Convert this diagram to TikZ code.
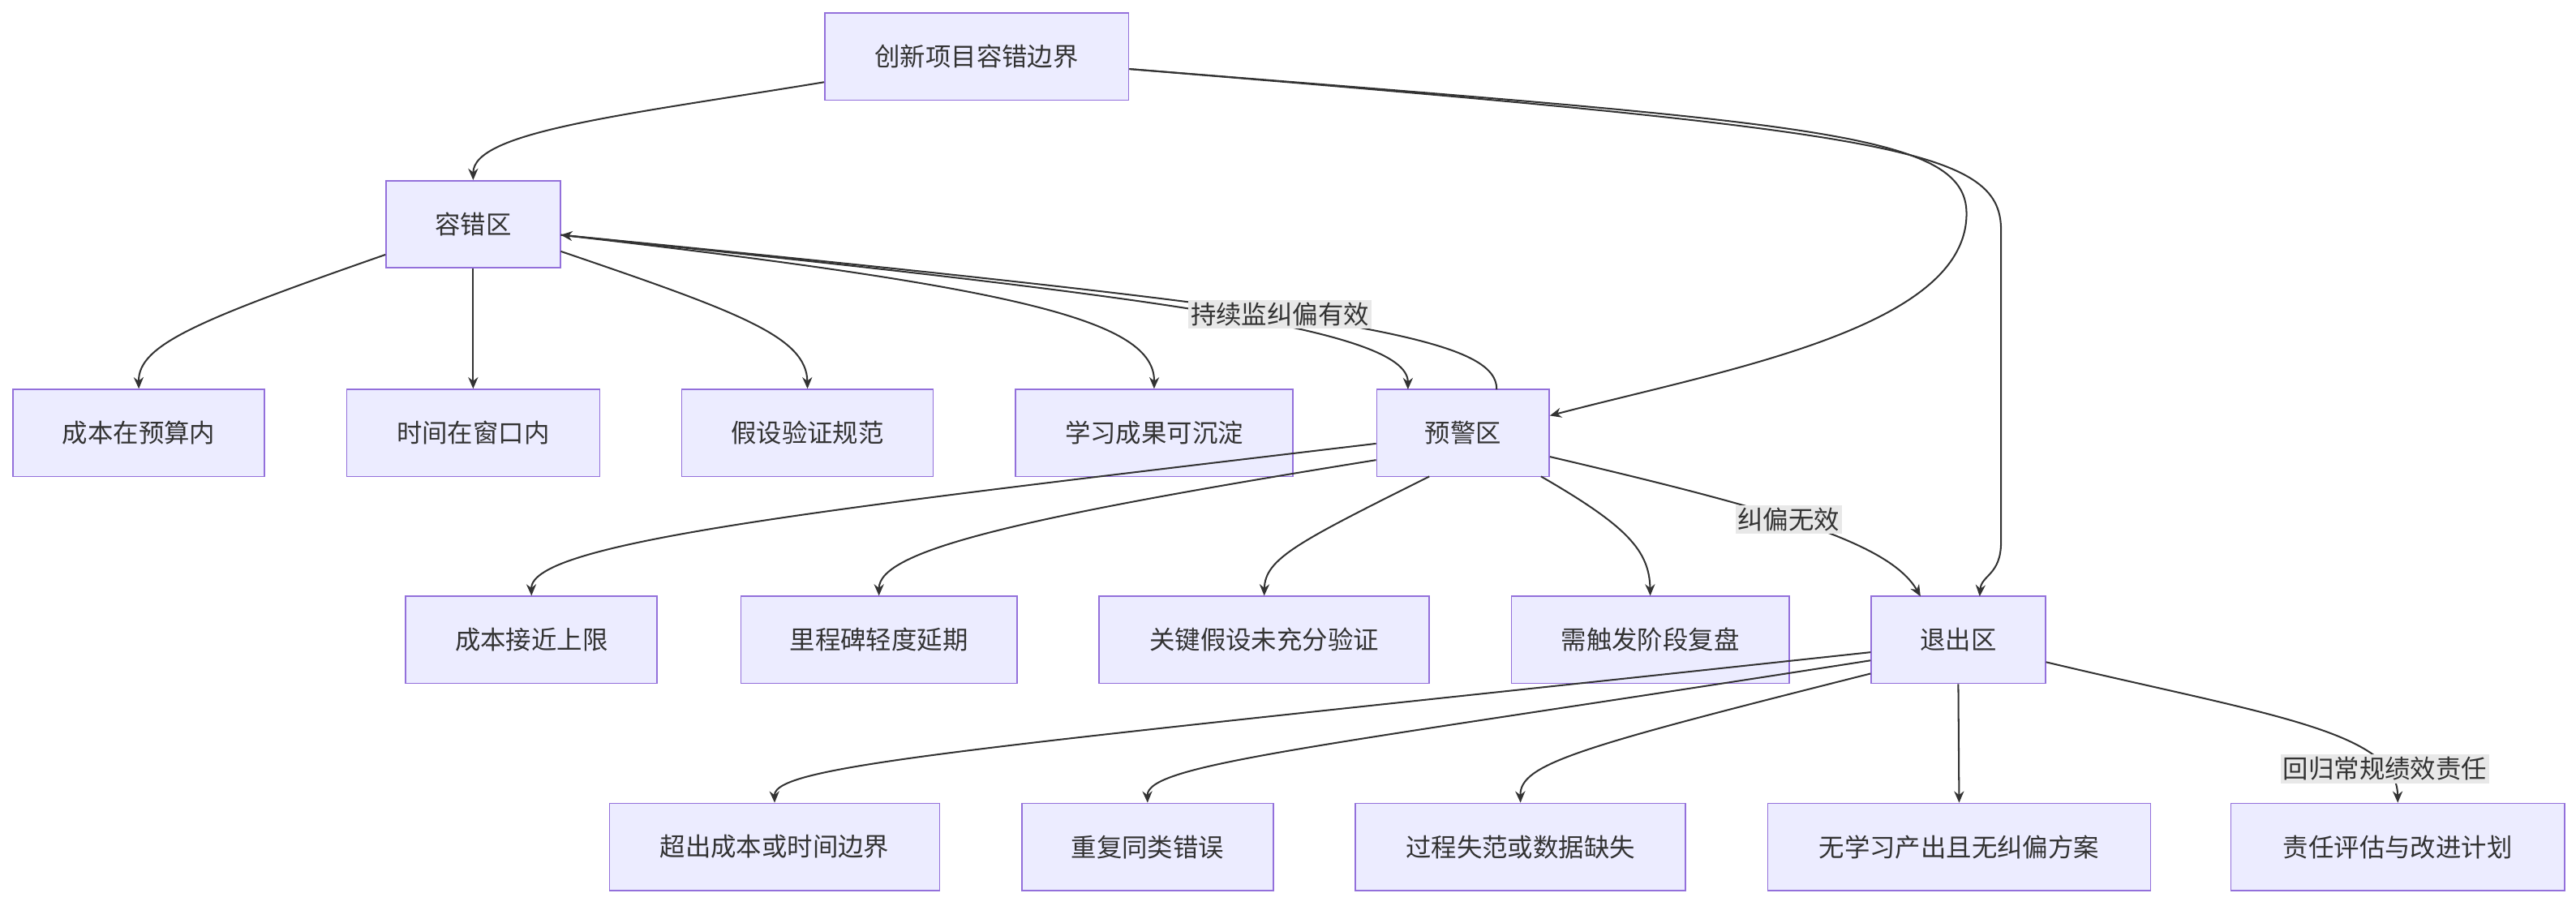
\documentclass[tikz,border=0pt]{standalone}
\usepackage{fontspec}
\setmainfont{Noto Sans CJK SC}
\begin{document}
\begin{tikzpicture}[x=1pt,y=-1pt,
  box/.style={draw=boxline,fill=boxfill,line width=0.8pt,minimum height=53pt,inner sep=0pt,font=\fontsize{15.5}{18}\selectfont,text=txt},
  edge/.style={draw=ln,line width=1pt,-{Stealth[length=7pt,width=6pt]}},
  lbl/.style={fill=lblbg,inner sep=1.5pt,font=\fontsize{15.5}{18}\selectfont,text=txt}]
\usetikzlibrary{arrows.meta}
\definecolor{boxfill}{HTML}{ECECFF}
\definecolor{boxline}{HTML}{9370DB}
\definecolor{ln}{HTML}{333333}
\definecolor{txt}{HTML}{333333}
\definecolor{lblbg}{HTML}{E8E8E8}
\useasboundingbox (0,0) rectangle (1568,551);
\node[box,minimum width=185pt] (top) at (594.5,34.5) {创新项目容错边界};
\node[box,minimum width=106pt] (z1) at (288,136.5) {容错区};
\node[box,minimum width=153pt] (a1) at (84.5,263.5) {成本在预算内};
\node[box,minimum width=154pt] (a2) at (288,263.5) {时间在窗口内};
\node[box,minimum width=153pt] (a3) at (491.5,263.5) {假设验证规范};
\node[box,minimum width=169pt] (a4) at (702.5,263.5) {学习成果可沉淀};
\node[box,minimum width=105pt] (z2) at (890.5,263.5) {预警区};
\node[box,minimum width=153pt] (b1) at (323.5,389.5) {成本接近上限};
\node[box,minimum width=168pt] (b2) at (535,389.5) {里程碑轻度延期};
\node[box,minimum width=201pt] (b3) at (769.5,389.5) {关键假设未充分验证};
\node[box,minimum width=169pt] (b4) at (1004.5,389.5) {需触发阶段复盘};
\node[box,minimum width=106pt] (z3) at (1192,389.5) {退出区};
\node[box,minimum width=201pt] (c1) at (471.5,515.5) {超出成本或时间边界};
\node[box,minimum width=153pt] (c2) at (698.5,515.5) {重复同类错误};
\node[box,minimum width=201pt] (c3) at (925.5,515.5) {过程失范或数据缺失};
\node[box,minimum width=233pt] (c4) at (1192.5,515.5) {无学习产出且无纠偏方案};
\node[box,minimum width=203pt] (c5) at (1459.5,515.5) {责任评估与改进计划};
% top edges
\draw[edge] (top.west|-0,50) .. controls (380,70) and (288,80) .. (z1.north);
\draw[edge] (top.east|-0,42) .. controls (1100,75) and (1197,80) .. (1197,130) .. controls (1197,200) and (1050,225) .. (z2.east|-0,253);
\draw[edge] (top.east|-0,42) .. controls (1150,80) and (1218,90) .. (1218,140) -- (1218,330) .. controls (1218,350) and (1206,350) .. (1205,363);
% z1 edges
\draw[edge] (z1.west|-0,155) .. controls (120,195) and (84,210) .. (a1.north);
\draw[edge] (z1.south) -- (a2.north);
\draw[edge] (z1.east|-0,153) .. controls (450,190) and (491,205) .. (a3.north);
\draw[edge] (z1.east|-0,143) .. controls (620,175) and (703,195) .. (a4.north);
\draw[edge] (z1.east|-0,143) .. controls (700,180) and (857,200) .. (857,237);
\draw[edge] (911,237) .. controls (911,205) and (820,190) .. node[lbl,pos=0.55]{持续监纠偏有效} (z1.east|-0,143);
% z2 edges
\draw[edge] (z2.west|-0,270) .. controls (500,310) and (323,330) .. (b1.north);
\draw[edge] (z2.west|-0,280) .. controls (620,315) and (535,335) .. (b2.north);
\draw[edge] (870,290) .. controls (790,330) and (770,340) .. (b3.north);
\draw[edge] (938,290) .. controls (990,320) and (1004,335) .. (b4.north);
\draw[edge] (z2.east|-0,278) .. controls (1080,310) and (1150,330) .. node[lbl,pos=0.45]{纠偏无效} (1169,363);
% z3 edges
\draw[edge] (z3.west|-0,397) .. controls (600,455) and (471,465) .. (c1.north);
\draw[edge] (z3.west|-0,402) .. controls (800,455) and (698,465) .. (c2.north);
\draw[edge] (z3.west|-0,410) .. controls (960,455) and (925,465) .. (c3.north);
\draw[edge] (z3.south) -- (c4.north);
\draw[edge] (z3.east|-0,403) .. controls (1380,435) and (1459,445) .. node[lbl,pos=0.82]{回归常规绩效责任} (c5.north);
\end{tikzpicture}
\end{document}
